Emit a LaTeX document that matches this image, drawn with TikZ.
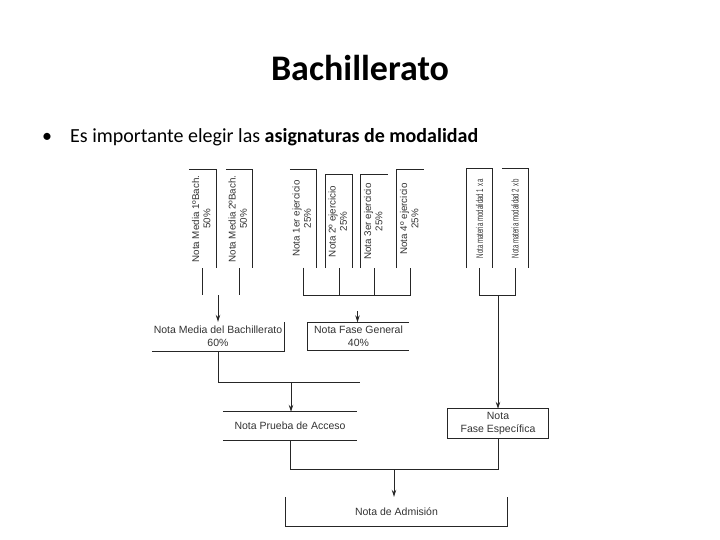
\documentclass[tikz,border=0pt]{standalone}
\usepackage{fontspec}
\setmainfont{Carlito}
\newfontfamily\arialf{Liberation Sans}
\usetikzlibrary{arrows.meta}
\begin{document}
\begin{tikzpicture}[x=1pt,y=-1pt,
  ln/.style={line width=0.8pt,draw=black!85},
  arr/.style={ln,-{Stealth[length=7pt,width=4.5pt]}},
  vbox/.style={inner sep=0pt,minimum height=98pt,font=\arialf\fontsize{9.8}{11.2}\selectfont,text=black!80,align=center},
  hbox/.style={inner sep=0pt,font=\arialf\fontsize{10.5}{13}\selectfont,text=black!80,align=center}
]
\path[use as bounding box] (0,0) rectangle (720,540);

% title and bullet
\node[font=\bfseries\fontsize{36}{40}\selectfont] (title) at (360,68) {Bachillerato};
\node[anchor=base west,inner sep=0pt,font=\fontsize{20}{24}\selectfont] (bul) at (42,143) {•};
\node[anchor=base west,inner sep=0pt,font=\fontsize{20}{24}\selectfont] (txt) at (70,143)
  {Es importante elegir las \textbf{asignaturas de modalidad}};

% vertical boxes
\node[vbox,minimum width=27pt] (b1) at (202.5,219) {\rotatebox{90}{\begin{tabular}{@{}c@{}}Nota Media 1ºBach.\\50\%\end{tabular}}};
\node[vbox,minimum width=26pt] (b2) at (239,219) {\rotatebox{90}{\begin{tabular}{@{}c@{}}Nota Media 2ºBach.\\50\%\end{tabular}}};
\node[vbox,minimum width=26pt] (b3) at (303,218.5) {\rotatebox{90}{\begin{tabular}{@{}c@{}}Nota 1er ejercicio\\25\%\end{tabular}}};
\node[vbox,minimum width=26pt,minimum height=93pt] (b4) at (339,221.5) {\rotatebox{90}{\begin{tabular}{@{}c@{}}Nota 2º ejercicio\\25\%\end{tabular}}};
\node[vbox,minimum width=27pt,minimum height=93pt] (b5) at (374.5,221.5) {\rotatebox{90}{\begin{tabular}{@{}c@{}}Nota 3er ejercicio\\25\%\end{tabular}}};
\node[vbox,minimum width=27pt] (b6) at (410.5,219) {\rotatebox{90}{\begin{tabular}{@{}c@{}}Nota 4º ejercicio\\25\%\end{tabular}}};
\node[vbox,minimum width=25pt,minimum height=99pt] (b7) at (479.5,218.5) {\rotatebox{90}{\scalebox{0.62}[1]{Nota materia modalidad 1 x a}}};
\node[vbox,minimum width=26pt,minimum height=99pt] (b8) at (515,218.5) {\rotatebox{90}{\scalebox{0.62}[1]{Nota materia modalidad 2 x b}}};

\draw[ln] (b1.north west) -- (b1.north east) -- (b1.south east);
\draw[ln] (b2.north west) -- (b2.north east) -- (b2.south east);
\draw[ln] (b3.north west) -- (b3.north east) -- (b3.south east);
\draw[ln] (b4.south west) -- (b4.north west) -- (b4.north east) -- (b4.south east);
\draw[ln] (b5.south west) -- (b5.north west) -- (b5.north east);
\draw[ln] (b6.south west) -- (b6.north west) -- (b6.north east);
\draw[ln] (b7.south west) -- (b7.north west) -- (b7.north east) -- (b7.south east);
\draw[ln] (b8.north west) -- (b8.north east) -- (b8.south east);

% horizontal boxes
\node[hbox,minimum width=132pt,minimum height=29pt] (mb) at (218,336.5) {Nota Media del Bachillerato\\60\%};
\node[hbox,minimum width=101pt,minimum height=28pt] (fg) at (358.5,336.5) {Nota Fase General\\40\%};
\node[hbox,minimum width=134pt,minimum height=28pt] (pa) at (290,426) {Nota Prueba de Acceso};
\node[hbox,minimum width=100pt,minimum height=29pt] (fe) at (498,423.5) {Nota\\Fase Específica};
\node[hbox,minimum width=221pt,minimum height=29pt] (ad) at (396.5,511.5) {Nota de Admisión};

\draw[ln] (mb.south west) -- (mb.south east) -- (mb.north east);
\draw[ln] (fg.north east) -- (fg.north west) -- (fg.south west) -- (fg.south east);
\draw[ln] (pa.north west) -- (pa.north east);
\draw[ln] (pa.south west) -- (pa.south east);
\draw[ln] (fe.north west) rectangle (fe.south east);
\draw[ln] (ad.north west) -- (ad.south west) -- (ad.south east) -- (ad.north east);

% connectors
\coordinate (jy) at (0,295);
\coordinate (ky) at (0,382);
\coordinate (ly) at (0,469);
\coordinate (amb) at (218,295);
\coordinate (afg) at (357.5,311);
\coordinate (kend) at (360,382);
\coordinate (apa) at (291,382);
\coordinate (aad) at (394,469);

\draw[ln] (b1.south) -- (b1.south |- jy);
\draw[ln] (b2.south) -- (b2.south |- jy);
\draw[arr] (amb) -- (amb |- mb.north);

\draw[ln] (b3.south) -- (b3.south |- jy) -- (b6.south |- jy) -- (b6.south);
\draw[ln] (b4.south) -- (b4.south |- jy);
\draw[ln] (b5.south) -- (b5.south |- jy);
\draw[arr] (afg) -- (afg |- fg.north);

\draw[ln] (b7.south) -- (b7.south |- jy) -- (b8.south |- jy) -- (b8.south);
\draw[arr] (fe.north |- jy) -- (fe.north);

\draw[ln] (mb.south) -- (mb.south |- ky) -- (kend);
\draw[arr] (apa) -- (apa |- pa.north);

\draw[ln] (pa.south) -- (pa.south |- ly) -- (fe.south |- ly) -- (fe.south);
\draw[arr] (aad) -- (aad |- ad.north);
\end{tikzpicture}
\end{document}
